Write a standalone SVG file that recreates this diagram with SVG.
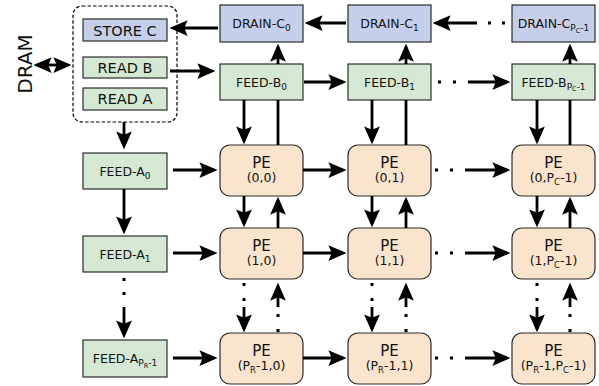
<svg xmlns="http://www.w3.org/2000/svg" width="599" height="386" viewBox="0 0 599 386">
<style>
text{font-family:"DejaVu Sans","Liberation Sans",sans-serif;fill:#111;text-anchor:middle}
.blue{fill:#c6cfea;stroke:#2b2b2b;stroke-width:1.2}
.green{fill:#d5e8d4;stroke:#2b2b2b;stroke-width:1.2}
.pe{fill:#fbe4cd;stroke:#2b2b2b;stroke-width:1.2}
.lbl{font-size:12.5px}
.big{font-size:14.5px}
.pet{font-size:15px}
.pec{font-size:12.5px}
.c{stroke:#000;stroke-width:2.8;fill:none}
.a{marker-end:url(#ah)}
.d{stroke:#000;stroke-width:3;fill:none}
</style>
<defs>
<marker id="ah" markerUnits="userSpaceOnUse" markerWidth="18" markerHeight="16" viewBox="0 0 16 14" refX="13" refY="7" orient="auto-start-reverse">
<path d="M0,0 L16,7 L0,14 L3,7 Z" fill="#000"/>
</marker>
</defs>

<text transform="translate(32,64) rotate(-90)" style="font-size:20px">DRAM</text>

<g id="dram-block">
<rect x="73" y="6" width="104" height="116" rx="9" fill="none" stroke="#000" stroke-width="1.2" stroke-dasharray="3.5,2"/>
</g>
<g id="store-c"><rect class="blue" x="83" y="19" width="84" height="22"/><text class="big" x="125" y="35.5">STORE C</text></g>
<g id="read-b"><rect class="green" x="83" y="57" width="84" height="21"/><text class="big" x="125" y="73">READ B</text></g>
<g id="read-a"><rect class="green" x="83" y="88" width="84" height="22"/><text class="big" x="125" y="104">READ A</text></g>

<g id="drain-c0"><rect class="blue" x="220" y="5" width="83" height="37"/><text class="lbl" x="261.5" y="28">DRAIN-C<tspan dy="3" font-size="9">0</tspan></text></g>
<g id="drain-c1"><rect class="blue" x="348" y="5" width="83" height="37"/><text class="lbl" x="389.5" y="28">DRAIN-C<tspan dy="3" font-size="9">1</tspan></text></g>
<g id="drain-cpc"><rect class="blue" x="512" y="5" width="83" height="37"/><text class="lbl" x="553.5" y="28">DRAIN-C<tspan dy="3" font-size="9">P</tspan><tspan dy="1.5" font-size="6.5">C</tspan><tspan dy="-1.5" font-size="9">-1</tspan></text></g>

<g id="feed-b0"><rect class="green" x="220" y="64" width="83" height="36"/><text class="lbl" x="261.5" y="86.5">FEED-B<tspan dy="3" font-size="9">0</tspan></text></g>
<g id="feed-b1"><rect class="green" x="348" y="64" width="83" height="36"/><text class="lbl" x="389.5" y="86.5">FEED-B<tspan dy="3" font-size="9">1</tspan></text></g>
<g id="feed-bpc"><rect class="green" x="512" y="64" width="83" height="36"/><text class="lbl" x="553.5" y="86.5">FEED-B<tspan dy="3" font-size="9">P</tspan><tspan dy="1.5" font-size="6.5">C</tspan><tspan dy="-1.5" font-size="9">-1</tspan></text></g>

<g id="feed-a0"><rect class="green" x="83" y="153" width="84" height="36"/><text class="lbl" x="125" y="175.5">FEED-A<tspan dy="3" font-size="9">0</tspan></text></g>
<g id="feed-a1"><rect class="green" x="83" y="236" width="84" height="36"/><text class="lbl" x="125" y="258.5">FEED-A<tspan dy="3" font-size="9">1</tspan></text></g>
<g id="feed-apr"><rect class="green" x="83" y="340" width="84" height="37"/><text class="lbl" x="125" y="363">FEED-A<tspan dy="3" font-size="9">P</tspan><tspan dy="1.5" font-size="6.5">R</tspan><tspan dy="-1.5" font-size="9">-1</tspan></text></g>

<g id="pe-0-0"><rect class="pe" x="220" y="145" width="83" height="51" rx="10"/><text class="pet" x="261.5" y="168">PE</text><text class="pec" x="261.5" y="182">(0,0)</text></g>
<g id="pe-0-1"><rect class="pe" x="348" y="145" width="83" height="51" rx="10"/><text class="pet" x="389.5" y="168">PE</text><text class="pec" x="389.5" y="182">(0,1)</text></g>
<g id="pe-0-pc"><rect class="pe" x="512" y="145" width="83" height="51" rx="10"/><text class="pet" x="553.5" y="168">PE</text><text class="pec" x="553.5" y="182">(0,P<tspan dy="2.5" font-size="8.5">C</tspan><tspan dy="-2.5">-1)</tspan></text></g>

<g id="pe-1-0"><rect class="pe" x="220" y="228" width="83" height="51" rx="10"/><text class="pet" x="261.5" y="251">PE</text><text class="pec" x="261.5" y="265">(1,0)</text></g>
<g id="pe-1-1"><rect class="pe" x="348" y="228" width="83" height="51" rx="10"/><text class="pet" x="389.5" y="251">PE</text><text class="pec" x="389.5" y="265">(1,1)</text></g>
<g id="pe-1-pc"><rect class="pe" x="512" y="228" width="83" height="51" rx="10"/><text class="pet" x="553.5" y="251">PE</text><text class="pec" x="553.5" y="265">(1,P<tspan dy="2.5" font-size="8.5">C</tspan><tspan dy="-2.5">-1)</tspan></text></g>

<g id="pe-pr-0"><rect class="pe" x="220" y="333" width="83" height="51" rx="10"/><text class="pet" x="261.5" y="356">PE</text><text class="pec" x="261.5" y="370">(P<tspan dy="2.5" font-size="8.5">R</tspan><tspan dy="-2.5">-1,0)</tspan></text></g>
<g id="pe-pr-1"><rect class="pe" x="348" y="333" width="83" height="51" rx="10"/><text class="pet" x="389.5" y="356">PE</text><text class="pec" x="389.5" y="370">(P<tspan dy="2.5" font-size="8.5">R</tspan><tspan dy="-2.5">-1,1)</tspan></text></g>
<g id="pe-pr-pc"><rect class="pe" x="512" y="333" width="83" height="51" rx="10"/><text class="pet" x="553.5" y="356">PE</text><text class="pec" x="553.5" y="370">(P<tspan dy="2.5" font-size="8.5">R</tspan><tspan dy="-2.5">-1,P</tspan><tspan dy="2.5" font-size="8.5">C</tspan><tspan dy="-2.5">-1)</tspan></text></g>

<g id="connectors">
<path class="c" d="M37,65 H68" marker-start="url(#ah)" marker-end="url(#ah)"/>
<path class="c a" d="M218,28 H173"/>
<path class="c a" d="M170,71 H212"/>
<path class="c a" d="M124,122 V146"/>
<path class="c a" d="M346,23 H308"/>
<path class="c a" d="M477,23 H436"/>
<path class="d" d="M488,23 h3 M502,23 h3"/>
<path class="c a" d="M304,82 H343"/>
<path class="c a" d="M468,82 H507"/>
<path class="d" d="M438,82 h3 M453,82 h3"/>
<path class="c a" d="M278,64 V47"/>
<path class="c a" d="M406,64 V47"/>
<path class="c a" d="M570,64 V47"/>
<path class="c" d="M278,145 V100"/>
<path class="c" d="M406,145 V100"/>
<path class="c" d="M570,145 V100"/>
<path class="c a" d="M244,100 V141"/>
<path class="c a" d="M372,100 V141"/>
<path class="c a" d="M537,100 V141"/>
<path class="c a" d="M244,196 V224"/>
<path class="c a" d="M278,228 V200"/>
<path class="c a" d="M372,196 V224"/>
<path class="c a" d="M406,228 V200"/>
<path class="c a" d="M537,196 V224"/>
<path class="c a" d="M570,228 V200"/>
<path class="c a" d="M244,307 V329"/>
<path class="d" d="M244,283 v3 M244,298 v3"/>
<path class="c a" d="M278,307 V286"/>
<path class="d" d="M278,314 v3 M278,329 v3"/>
<path class="c a" d="M372,307 V329"/>
<path class="d" d="M372,283 v3 M372,298 v3"/>
<path class="c a" d="M406,307 V286"/>
<path class="d" d="M406,314 v3 M406,329 v3"/>
<path class="c a" d="M537,307 V329"/>
<path class="d" d="M537,283 v3 M537,298 v3"/>
<path class="c a" d="M570,307 V286"/>
<path class="d" d="M570,314 v3 M570,329 v3"/>
<path class="c a" d="M124,189 V231"/>
<path class="c a" d="M124,307 V335"/>
<path class="d" d="M124,278 v3 M124,292 v3"/>
<path class="c a" d="M173,170 H214"/>
<path class="c a" d="M173,253 H214"/>
<path class="c a" d="M173,358 H214"/>
<path class="c a" d="M303,170 H343"/>
<path class="c a" d="M465,170 H507"/>
<path class="d" d="M435,170 h3 M450,170 h3"/>
<path class="c a" d="M303,253 H343"/>
<path class="c a" d="M465,253 H507"/>
<path class="d" d="M435,253 h3 M450,253 h3"/>
<path class="c a" d="M303,358 H343"/>
<path class="c a" d="M465,358 H507"/>
<path class="d" d="M435,358 h3 M450,358 h3"/>
</g>
</svg>
